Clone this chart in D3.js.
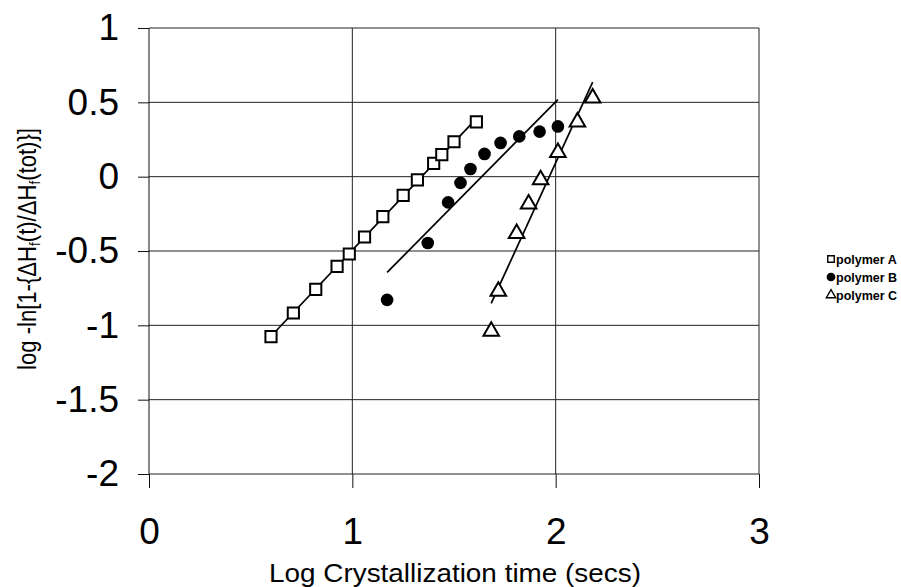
<!DOCTYPE html>
<html><head><meta charset="utf-8">
<script src="https://cdn.jsdelivr.net/npm/d3@7"></script>
<style>body{margin:0;background:#fff}svg{display:block}text{font-family:"Liberation Sans",Arial,sans-serif}</style>
</head><body>
<svg id="c" width="901" height="587"></svg>
<script>
const xTicks = [0, 1, 2, 3];
const yTicks = [-2, -1.5, -1, -0.5, 0, 0.5, 1];
const yTickLabels = ["-2", "-1.5", "-1", "-0.5", "0", "0.5", "1"];
const seriesNames = ["polymer A", "polymer B", "polymer C"];
const aX = [0.60, 0.71, 0.82, 0.925, 0.985, 1.06, 1.15, 1.25, 1.32, 1.40, 1.44, 1.50, 1.61];
const aY = [-1.076, -0.917, -0.758, -0.603, -0.52, -0.406, -0.269, -0.126, -0.022, 0.089, 0.148, 0.235, 0.368];
const bX = [1.171, 1.371, 1.471, 1.532, 1.581, 1.65, 1.729, 1.821, 1.921, 2.011];
const bY = [-0.829, -0.446, -0.173, -0.042, 0.052, 0.153, 0.227, 0.271, 0.303, 0.338];
const cX = [1.683, 1.718, 1.808, 1.867, 1.926, 2.011, 2.107, 2.182];
const cY = [-1.04, -0.771, -0.383, -0.184, -0.02, 0.163, 0.368, 0.529];

const svg = d3.select("#c");
const x = d3.scaleLinear().domain([0, 3]).range([149, 759]);
const y = d3.scaleLinear().domain([-2, 1]).range([474, 28]);

// horizontal gridlines
svg.append("g").selectAll("line").data(yTicks).join("line")
  .attr("x1", x(0)).attr("x2", x(3)).attr("y1", d => y(d)).attr("y2", d => y(d))
  .attr("stroke", "#222").attr("stroke-width", 1);
// vertical gridlines
svg.append("g").selectAll("line").data(xTicks.slice(1)).join("line")
  .attr("x1", d => x(d)).attr("x2", d => x(d)).attr("y1", y(1)).attr("y2", y(-2))
  .attr("stroke", "#222").attr("stroke-width", 1);

// y axis
const yAxis = svg.append("g").attr("transform", `translate(${x(0)},0)`)
  .call(d3.axisLeft(y).tickValues(yTicks).tickFormat((d, i) => yTickLabels[i]).tickSize(11).tickPadding(19));
yAxis.select(".domain").attr("d", `M0,${y(1)}V${y(-2)}`).attr("stroke", "#111");
yAxis.selectAll(".tick line").attr("stroke", "#111");
yAxis.selectAll("text").attr("font-size", 37).attr("fill", "#000").attr("font-family", "Liberation Sans, Arial, sans-serif");

// x axis
const xAxis = svg.append("g").attr("transform", `translate(0,${y(-2)})`)
  .call(d3.axisBottom(x).tickValues(xTicks).tickFormat(d3.format("d")).tickSize(14).tickPadding(30));
xAxis.select(".domain").remove();
xAxis.selectAll(".tick line").attr("stroke", "#111");
xAxis.selectAll("text").attr("font-size", 37).attr("fill", "#000").attr("font-family", "Liberation Sans, Arial, sans-serif");

// regression lines
function fit(xs, ys) {
  const mx = d3.mean(xs), my = d3.mean(ys);
  let sxy = 0, sxx = 0;
  xs.forEach((v, i) => { sxy += (v - mx) * (ys[i] - my); sxx += (v - mx) * (v - mx); });
  const m = sxy / sxx, b = my - m * mx;
  const x0 = d3.min(xs), x1 = d3.max(xs);
  return [[x0, m * x0 + b], [x1, m * x1 + b]];
}
const line = d3.line().x(d => x(d[0])).y(d => y(d[1]));
[[aX, aY], [bX, bY], [cX, cY]].forEach(([xs, ys]) => {
  svg.append("path").attr("d", line(fit(xs, ys))).attr("fill", "none")
    .attr("stroke", "#000").attr("stroke-width", 1.7);
});

const sq = d3.symbol().type(d3.symbolSquare).size(125);
const ci = d3.symbol().type(d3.symbolCircle).size(125);
const tr = d3.symbol().type(d3.symbolTriangle).size(105);

svg.append("g").selectAll("path").data(aX.map((v, i) => [v, aY[i]])).join("path")
  .attr("d", sq).attr("transform", d => `translate(${x(d[0])},${y(d[1])})`)
  .attr("fill", "#fff").attr("stroke", "#000").attr("stroke-width", 2);
svg.append("g").selectAll("path").data(bX.map((v, i) => [v, bY[i]])).join("path")
  .attr("d", ci).attr("transform", d => `translate(${x(d[0])},${y(d[1])})`)
  .attr("fill", "#000");
svg.append("g").selectAll("path").data(cX.map((v, i) => [v, cY[i]])).join("path")
  .attr("d", tr).attr("transform", d => `translate(${x(d[0])},${y(d[1])})`)
  .attr("fill", "#fff").attr("stroke", "#000").attr("stroke-width", 2);

// axis titles
svg.append("text").attr("x", 455).attr("y", 582).attr("text-anchor", "middle")
  .attr("font-size", 25).attr("textLength", 372).attr("lengthAdjust", "spacingAndGlyphs")
  .text("Log Crystallization time (secs)");
const yt = svg.append("text").attr("transform", "translate(36,249) rotate(-90)")
  .attr("text-anchor", "middle").attr("font-size", 25)
  .attr("textLength", 242).attr("lengthAdjust", "spacingAndGlyphs");
yt.append("tspan").text("log -ln[1-{ΔH");
yt.append("tspan").attr("font-size", 15).attr("dy", 4).text("f");
yt.append("tspan").attr("dy", -4).text("(t)/ΔH");
yt.append("tspan").attr("font-size", 15).attr("dy", 4).text("f");
yt.append("tspan").attr("dy", -4).text("(tot)}]");

// legend
const legTypes = [d3.symbolSquare, d3.symbolCircle, d3.symbolTriangle];
const leg = svg.append("g");
seriesNames.forEach((n, i) => {
  const ly = 259 + i * 18;
  leg.append("path").attr("d", d3.symbol().type(legTypes[i]).size(i === 2 ? 38 : 42))
    .attr("transform", `translate(${831},${ly})`)
    .attr("fill", i === 1 ? "#000" : "#fff").attr("stroke", "#000").attr("stroke-width", 1.4);
  leg.append("text").attr("x", 836).attr("y", ly + 4.5).attr("font-size", 12.5)
    .attr("font-weight", "bold").text(n);
});
</script>
</body></html>
